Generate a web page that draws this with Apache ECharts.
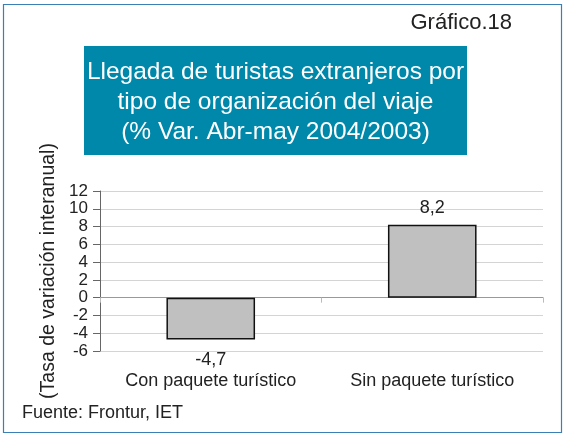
<!DOCTYPE html>
<html>
<head>
<meta charset="utf-8">
<script src="https://cdn.jsdelivr.net/npm/echarts@6/dist/echarts.min.js"></script>
<style>
  html, body { margin: 0; padding: 0; background: #fff; }
  #chart { width: 565px; height: 436px; }
</style>
</head>
<body>
<div id="chart"></div>
<script>
// datos
var categorias = ["Con paquete turístico", "Sin paquete turístico"];
var variacion = [-4.7, 8.2];
var yMin = -6, yMax = 12, yPaso = 2;

var font = "Liberation Sans, Arial, sans-serif";

var chart = echarts.init(document.getElementById("chart"));

var option = {
  animation: false,
  textStyle: { fontFamily: font },
  grid: { left: 100, top: 191, right: 22, bottom: 85 },
  graphic: [
    {
      type: "rect",
      shape: { x: 3.5, y: 4.5, width: 558, height: 428 },
      style: { fill: "none", stroke: "#3a7fb5", lineWidth: 1.2 }
    },
    {
      type: "text",
      right: 53, top: 12,
      style: { text: "Gráfico.18", font: "22px " + font, fill: "#222" }
    },
    {
      type: "rect",
      shape: { x: 84, y: 46, width: 383, height: 109 },
      style: { fill: "#0088ab" }
    },
    {
      type: "text",
      x: 275.5, y: 102.5,
      style: {
        text: "Llegada de turistas extranjeros por\ntipo de organización del viaje\n(% Var. Abr-may 2004/2003)",
        font: "24.5px " + font, fill: "#fff",
        align: "center", verticalAlign: "middle", lineHeight: 30
      }
    },
    {
      type: "text",
      left: 22, top: 404,
      style: { text: "Fuente: Frontur, IET", font: "18px " + font, fill: "#222" }
    }
  ],
  xAxis: [
    {
      type: "category",
      data: categorias,
      position: "bottom",
      axisLine: { show: false, onZero: false },
      axisTick: { show: false },
      axisLabel: { color: "#222", fontSize: 18, margin: 21, interval: 0, hideOverlap: false }
    },
    {
      type: "category",
      data: categorias,
      position: "bottom",
      axisLine: { onZero: true, lineStyle: { color: "#999", width: 1 } },
      axisTick: { show: true, length: 5, lineStyle: { color: "#bbb" } },
      axisLabel: { show: false }
    }
  ],
  yAxis: {
    type: "value",
    min: yMin, max: yMax, interval: yPaso,
    name: "(Tasa de variación interanual)",
    nameLocation: "middle",
    nameGap: 39,
    nameTextStyle: { fontSize: 19.5, color: "#222" },
    axisLine: { show: true, lineStyle: { color: "#666" } },
    axisTick: { show: true, length: 7, lineStyle: { color: "#666" } },
    axisLabel: {
      color: "#222", fontSize: 17, margin: 12,
      showMinLabel: true, showMaxLabel: true, hideOverlap: false
    },
    splitLine: { lineStyle: { color: "#d4d4d4" } }
  },
  series: [
    {
      type: "bar",
      xAxisIndex: 0,
      barWidth: "40%",
      data: variacion.map(function (v) {
        return {
          value: v,
          label: { position: v < 0 ? "bottom" : "top", distance: v < 0 ? 12 : 8 }
        };
      }),
      itemStyle: { color: "#c0c0c0", borderColor: "#111", borderWidth: 1.5 },
      label: {
        show: true,
        fontSize: 18, color: "#222",
        formatter: function (p) { return String(p.value).replace(".", ","); }
      }
    }
  ]
};

chart.setOption(option);
</script>
</body>
</html>
